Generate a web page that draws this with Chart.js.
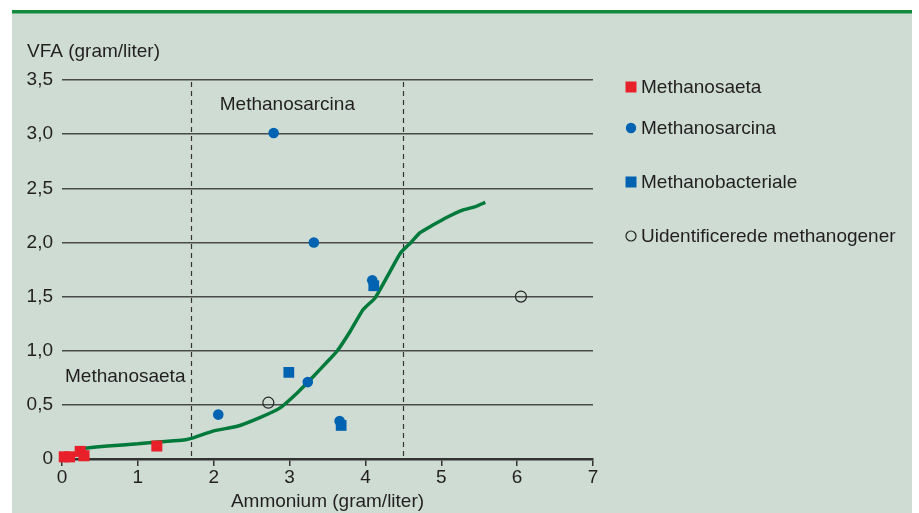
<!DOCTYPE html>
<html>
<head>
<meta charset="utf-8">
<script src="https://cdn.jsdelivr.net/npm/chart.js@4.4.1/dist/chart.umd.min.js"></script>
<style>
  html, body { margin: 0; padding: 0; background: #fff; }
  #wrap { width: 919px; height: 513px; }
</style>
</head>
<body>
<div id="wrap"><canvas id="vfaChart" width="919" height="513"></canvas></div>
<script>
// Data
const seriesNames = ['Methanosaeta', 'Methanosarcina', 'Methanobacteriale', 'Uidentificerede methanogener'];

const saetaX = [0.03, 0.10, 0.24, 0.29, 1.25];
const saetaY = [0.02, 0.02, 0.07, 0.03, 0.12];

const sarcinaX = [2.79, 3.32, 4.09, 3.24, 2.06, 3.66];
const sarcinaY = [3.01, 2.00, 1.65, 0.71, 0.41, 0.35];

const bacterX = [2.99, 4.11, 3.68];
const bacterY = [0.80, 1.60, 0.31];

const unidX = [2.72, 6.05];
const unidY = [0.52, 1.50];

// green curve
const curveX = [0.3, 0.6, 1.0, 1.3, 1.6, 1.75, 2.0, 2.3, 2.6, 2.87, 3.1, 3.31, 3.5, 3.63, 3.8, 3.97, 4.13, 4.3, 4.46, 4.6, 4.72, 4.89, 5.07, 5.29, 5.45, 5.58];
const curveY = [0.10, 0.12, 0.14, 0.16, 0.175, 0.20, 0.26, 0.30, 0.38, 0.47, 0.61, 0.76, 0.90, 1.00, 1.18, 1.38, 1.49, 1.70, 1.90, 2.00, 2.09, 2.16, 2.23, 2.30, 2.33, 2.37];

const xTicks = [0, 1, 2, 3, 4, 5, 6, 7];
const yTickLabels = ['0', '0,5', '1,0', '1,5', '2,0', '2,5', '3,0', '3,5'];

// zone boundaries (ammonium)
const zoneLines = [1.7, 4.5];

const pts = (xs, ys) => xs.map((x, i) => ({ x: x, y: ys[i] }));

const RED = '#e8202a';
const BLUE = '#0063b1';
const GREEN = '#007a3a';
const TXT = '#231f20';
const FONT = '"Liberation Sans", Arial, Helvetica, sans-serif';
const FSIZE = 19;

Chart.defaults.font.family = FONT;
Chart.defaults.color = TXT;

// Background panel, dashed zone lines
const panelPlugin = {
  id: 'panel',
  beforeDraw(chart) {
    const c = chart.ctx;
    c.save();
    c.fillStyle = '#fff';
    c.fillRect(0, 0, chart.width, chart.height);
    c.fillStyle = '#cedcd4';
    c.fillRect(12, 10, 900, 503);
    c.fillStyle = '#148a3f';
    c.fillRect(12, 10, 900, 3.5);
    c.restore();
  },
  beforeDatasetsDraw(chart) {
    const c = chart.ctx, xs = chart.scales.x, ys = chart.scales.y;
    c.save();
    c.strokeStyle = '#333';
    c.lineWidth = 1.2;
    c.setLineDash([5, 4]);
    zoneLines.forEach(v => {
      const px = Math.round(xs.getPixelForValue(v)) + 0.5;
      c.beginPath();
      c.moveTo(px, ys.getPixelForValue(3.5) + 2);
      c.lineTo(px, ys.getPixelForValue(0));
      c.stroke();
    });
    c.restore();
  }
};

// Texts: axis title on top, zone labels, legend
const textPlugin = {
  id: 'texts',
  afterDraw(chart) {
    const c = chart.ctx, xs = chart.scales.x, ys = chart.scales.y;
    c.save();
    c.font = FSIZE + 'px ' + FONT;
    c.fillStyle = TXT;
    c.textBaseline = 'middle';
    c.textAlign = 'left';
    c.fillText('VFA (gram/liter)', 27, 52);
    c.fillText('Methanosarcina', xs.getPixelForValue(2.08), ys.getPixelForValue(3.27));
    c.fillText('Methanosaeta', xs.getPixelForValue(0.04), ys.getPixelForValue(0.76));

    // legend
    const lx = 631, tx = 641;
    const rows = [87, 128, 182, 236];
    seriesNames.forEach((name, i) => {
      const y = rows[i];
      c.lineWidth = 1.2;
      if (i === 0 || i === 2) {
        c.fillStyle = i === 0 ? RED : BLUE;
        c.fillRect(lx - 5.5, y - 5.5, 11, 11);
      } else if (i === 1) {
        c.fillStyle = BLUE;
        c.beginPath(); c.arc(lx, y, 5.2, 0, Math.PI * 2); c.fill();
      } else {
        c.strokeStyle = '#222';
        c.beginPath(); c.arc(lx, y, 5, 0, Math.PI * 2); c.stroke();
      }
      c.fillStyle = TXT;
      c.fillText(name, tx, y + 1);
    });
    c.restore();
  }
};

const ctx = document.getElementById('vfaChart').getContext('2d');
const chart = new Chart(ctx, {
  type: 'scatter',
  data: {
    datasets: [
      {
        label: seriesNames[0],
        data: pts(saetaX, saetaY),
        pointStyle: 'rect',
        pointRadius: 7.8,
        backgroundColor: RED,
        borderWidth: 0,
        clip: false,
        order: 1
      },
      {
        label: seriesNames[1],
        data: pts(sarcinaX, sarcinaY),
        pointStyle: 'circle',
        pointRadius: 5.3,
        backgroundColor: BLUE,
        borderWidth: 0,
        clip: false,
        order: 2
      },
      {
        label: seriesNames[2],
        data: pts(bacterX, bacterY),
        pointStyle: 'rect',
        pointRadius: 7.6,
        backgroundColor: BLUE,
        borderWidth: 0,
        clip: false,
        order: 1
      },
      {
        label: seriesNames[3],
        data: pts(unidX, unidY),
        pointStyle: 'circle',
        pointRadius: 5.5,
        backgroundColor: 'rgba(0,0,0,0)',
        borderColor: '#222',
        borderWidth: 1.2,
        clip: false,
        order: 1
      },
      {
        type: 'line',
        label: 'kurve',
        data: pts(curveX, curveY),
        borderColor: GREEN,
        borderWidth: 3.5,
        pointRadius: 0,
        tension: 0.15,
        fill: false,
        order: 10
      }
    ]
  },
  options: {
    responsive: false,
    animation: false,
    layout: { padding: { top: 80, right: 326, left: 0, bottom: 0 } },
    plugins: {
      legend: { display: false },
      tooltip: { enabled: false }
    },
    scales: {
      x: {
        type: 'linear',
        min: 0,
        max: 7,
        afterBuildTicks: s => { s.ticks = xTicks.map(v => ({ value: v })); },
        afterFit: s => { s.height = 54; },
        ticks: { font: { size: FSIZE }, color: TXT, padding: 0 },
        grid: { drawOnChartArea: false, drawTicks: true, tickLength: 7, color: '#333', lineWidth: 1.5 },
        border: { display: true, color: '#333', width: 2.5 },
        title: {
          display: true,
          text: 'Ammonium (gram/liter)',
          font: { size: FSIZE },
          color: TXT,
          padding: { top: 0, bottom: 0 }
        }
      },
      y: {
        min: 0,
        max: 3.5,
        afterFit: s => { s.width = 62; },
        ticks: {
          stepSize: 0.5,
          font: { size: FSIZE },
          color: TXT,
          padding: 9,
          callback: (v, i) => yTickLabels[i]
        },
        grid: { color: '#4a4a4a', lineWidth: 1.5, drawTicks: false },
        border: { display: false }
      }
    }
  },
  plugins: [panelPlugin, textPlugin]
});
</script>
</body>
</html>
